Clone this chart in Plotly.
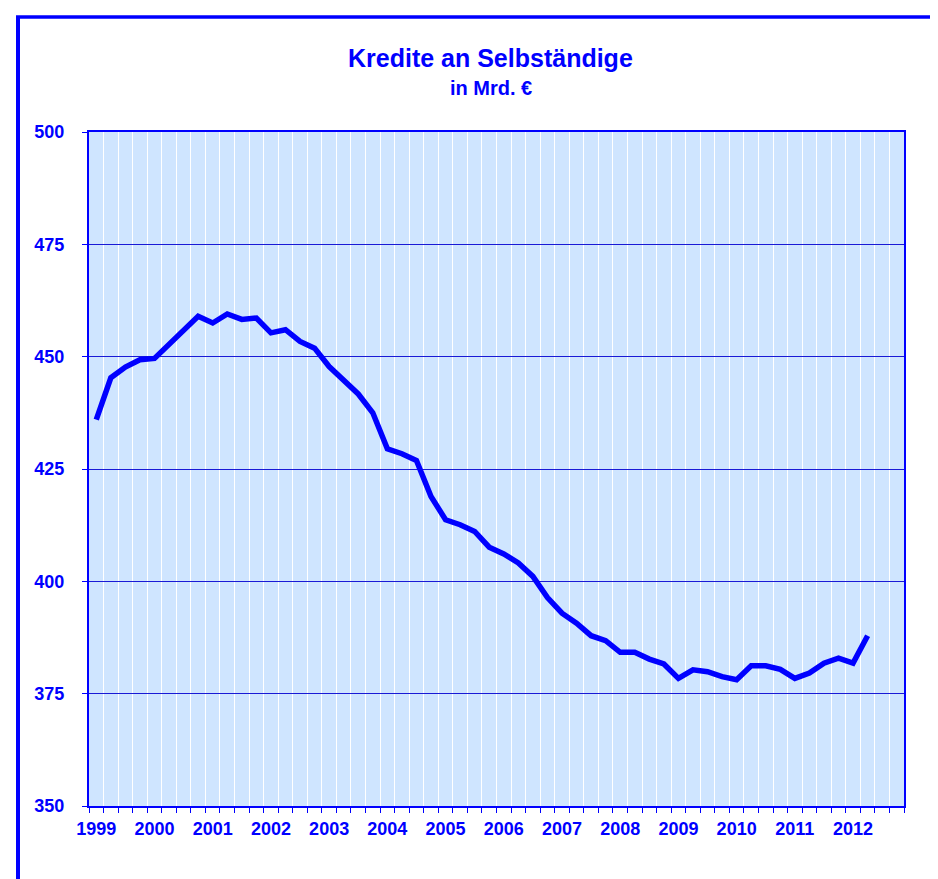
import plotly.graph_objects as go

# ---- data (quarterly, 1999 Q1 .. 2012 Q2), in Mrd. €
years = [str(y) for y in range(1999, 2013)]
quarters = [f"{y} Q{q}" for y in range(1999, 2013) for q in range(1, 5)]
values = [
    436.0, 445.3, 447.7, 449.3, 449.6, 452.7, 455.8, 459.0,
    457.5, 459.5, 458.3, 458.6, 455.3, 456.0, 453.4, 451.9,
    447.8, 444.9, 441.7, 437.5, 429.5, 428.4, 426.9, 418.9,
    413.7, 412.6, 411.1, 407.6, 406.1, 404.1, 401.1, 396.4,
    392.9, 390.7, 387.9, 386.8, 384.2, 384.2, 382.7, 381.6,
    378.4, 380.3, 379.9, 378.8, 378.1, 381.2, 381.2, 380.4,
    378.4, 379.6, 381.8, 382.9, 381.8, 387.9,
]
quarters = quarters[:len(values)]
title_text = "Kredite an Selbständige"
subtitle_text = "in Mrd. €"

BLUE = "#0000FF"
FONT = "Liberation Sans, Arial, sans-serif"

n_slots = len(years) * 4
xpos = list(range(len(values)))

fig = go.Figure()
fig.add_trace(go.Scatter(
    x=xpos, y=values, mode="lines",
    line=dict(color=BLUE, width=5.5),
    text=quarters, hovertemplate="%{text}: %{y:.1f}<extra></extra>",
    showlegend=False,
))

W, H = 938, 879
L, R, T, B = 81, 42, 124, 81

fig.update_layout(
    width=W, height=H,
    margin=dict(l=L, r=R, t=T, b=B),
    paper_bgcolor="white",
    plot_bgcolor="#CFE5FF",
    font=dict(family=FONT, color=BLUE, size=18),
    showlegend=False,
    xaxis=dict(
        range=[-0.5, n_slots - 0.5],
        tickmode="array",
        tickvals=[i * 4 for i in range(len(years))],
        ticktext=years,
        ticks="", showgrid=False, zeroline=False,
        showline=True, linecolor=BLUE, linewidth=2, mirror=True,
        tickfont=dict(family=FONT, size=18, color=BLUE, weight="bold"),
        ticklabelstandoff=5,
        minor=dict(
            tickmode="array",
            tickvals=[k - 0.5 for k in range(n_slots + 1)],
            ticks="outside", ticklen=5, tickcolor=BLUE, tickwidth=1,
            showgrid=True, gridcolor="white", gridwidth=1,
        ),
    ),
    yaxis=dict(
        range=[350, 500], dtick=25, tick0=350,
        ticks="outside", ticklen=5, tickcolor=BLUE, tickwidth=1,
        showgrid=True, gridcolor="#1A1AD6", gridwidth=1,
        zeroline=False,
        showline=True, linecolor=BLUE, linewidth=2, mirror=True,
        tickfont=dict(family=FONT, size=18, color=BLUE, weight="bold"),
        ticklabelstandoff=14,
    ),
)

ph = H - T - B
pw = W - L - R
def py(px):
    return 1 + (T - px) / ph
def pxx(px):
    return (px - L) / pw

fig.add_annotation(text=title_text, xref="paper", yref="paper",
                   x=pxx(482), y=py(50), showarrow=False,
                   xanchor="center", yanchor="middle",
                   font=dict(family=FONT, size=25, color=BLUE, weight="bold"))
fig.add_annotation(text=subtitle_text, xref="paper", yref="paper",
                   x=pxx(483), y=py(80), showarrow=False,
                   xanchor="center", yanchor="middle",
                   font=dict(family=FONT, size=20, color=BLUE, weight="bold"))

# outer frame (left and top edges visible)
fig.add_shape(type="line", xref="paper", yref="paper",
              x0=pxx(10), x1=pxx(10), y0=py(9), y1=py(H + 20),
              line=dict(color=BLUE, width=4), layer="above")
fig.add_shape(type="line", xref="paper", yref="paper",
              x0=pxx(8), x1=pxx(W + 20), y0=py(9), y1=py(9),
              line=dict(color=BLUE, width=3.5), layer="above")

fig.write_html("out.html")
